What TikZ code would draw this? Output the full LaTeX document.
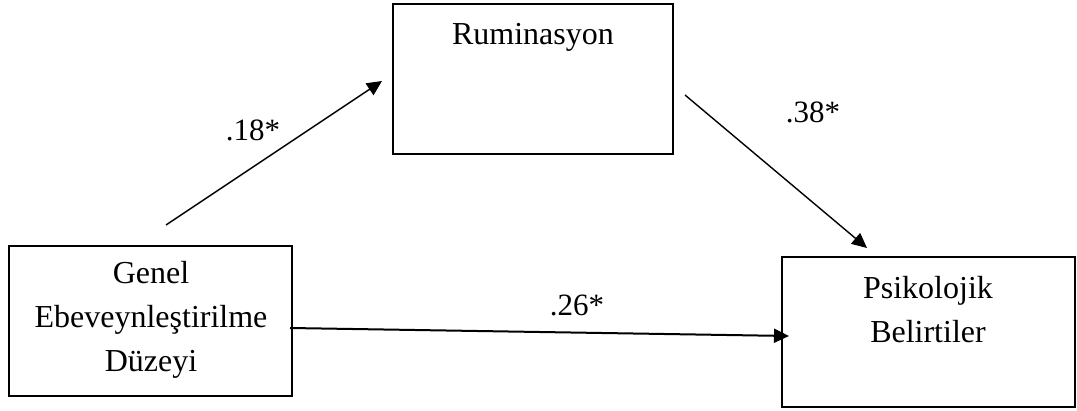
\documentclass[tikz,border=0pt]{standalone}
\usepackage{fontspec}
\setmainfont{Liberation Serif}
\usetikzlibrary{arrows.meta}
\begin{document}
\begin{tikzpicture}[x=1pt,y=-1pt,
  box/.style={draw=black, line width=2pt, inner sep=0pt},
  txt/.style={inner sep=0pt, align=center, font=\fontsize{32}{44}\selectfont},
  coef/.style={inner sep=0pt, font=\fontsize{31}{36}\selectfont},
  path/.style={line width=1.4pt, -{Triangle[length=15pt,width=14pt]}}]
  % canvas
  \fill[white] (0,0) rectangle (1077,411);
  \useasboundingbox (0,0) rectangle (1077,411);

  % variable boxes
  \node[box, minimum width=280pt, minimum height=150pt] (rum) at (533,79) {};
  \node[box, minimum width=283pt, minimum height=150pt] (gen) at (150.5,321) {};
  \node[box, minimum width=293pt, minimum height=150pt] (psi) at (928.5,332) {};

  % box captions
  \node[txt] (rumtxt) at (533,37) {Ruminasyon};
  \node[txt] (gentxt) at (151,320) {Genel\\Ebeveynleştirilme\\Düzeyi};
  \node[txt] (psitxt) at (928,310) {Psikolojik\\Belirtiler};

  % path end points
  \coordinate (a1) at (166,225);
  \coordinate (a2) at (382,81);
  \coordinate (b1) at (685,95);
  \coordinate (b2) at (867,248);
  \coordinate (c1) at (290,328);
  \coordinate (c2) at (789,336);

  % paths
  \draw[path] (a1) -- (a2);
  \draw[path] (b1) -- (b2);
  \draw[path, line width=2pt] (c1) -- (c2);

  % coefficients
  \node[coef] (k1) at (253,130) {.18*};
  \node[coef] (k2) at (813,112) {.38*};
  \node[coef] (k3) at (577,305) {.26*};
\end{tikzpicture}
\end{document}
